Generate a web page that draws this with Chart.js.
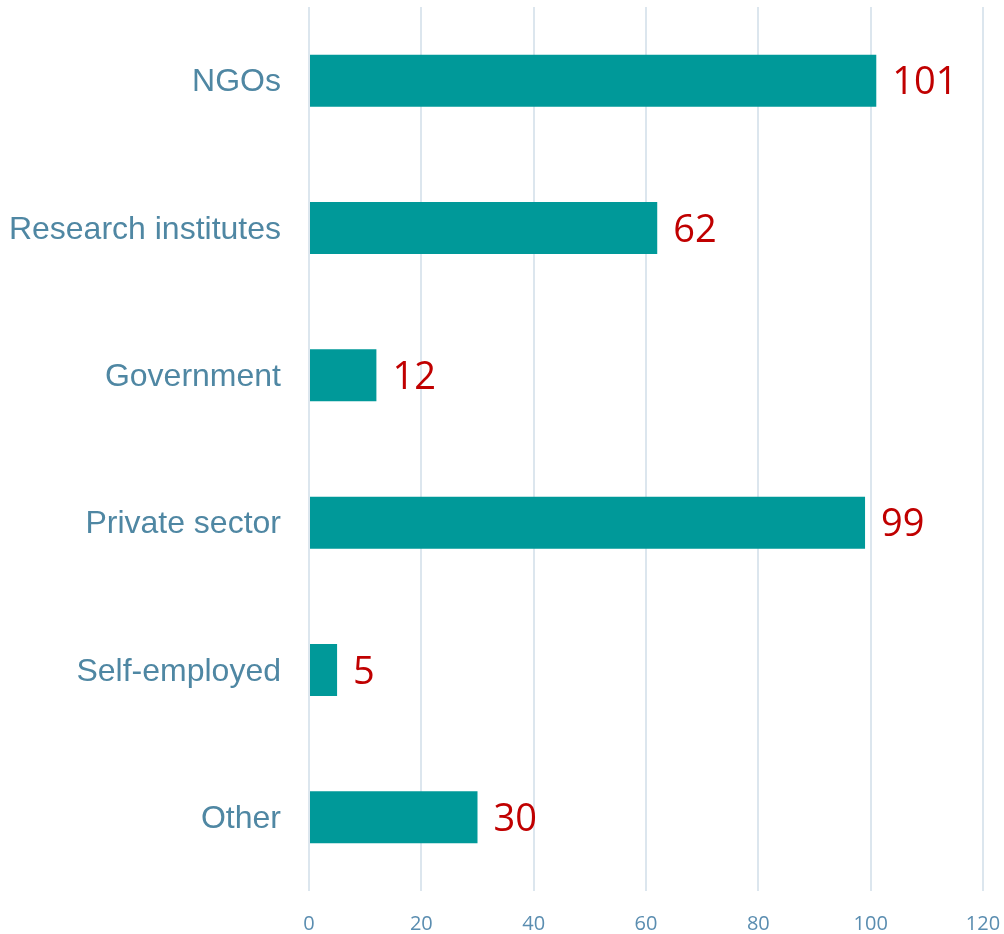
<!DOCTYPE html>
<html>
<head>
<meta charset="utf-8">
<title>Employment sector</title>
<script src="https://cdn.jsdelivr.net/npm/chart.js@4"></script>
<style>
  html, body { margin: 0; padding: 0; background: #ffffff; }
  #wrap { width: 1004px; height: 934px; position: relative; }
</style>
</head>
<body>
<div id="wrap"><canvas id="chart"></canvas></div>
<script>
// Respondents by sector
const sectors = ['NGOs', 'Research institutes', 'Government', 'Private sector', 'Self-employed', 'Other'];
const counts = [101, 62, 12, 99, 5, 30];
const axisMin = 0;
const axisMax = 120;
const axisStep = 20;

const barColor = '#009999';
const labelColor = '#4f87a3';
const tickColor = '#5a8db0';
const valueColor = '#c00000';
const gridColor = '#dce6ee';

// value printed just past the end of each bar
const valueLabels = {
    id: 'valueLabels',
    afterDatasetsDraw(chart) {
        const ctx = chart.ctx;
        const meta = chart.getDatasetMeta(0);
        ctx.save();
        ctx.font = '38px "Open Sans", "Noto Sans", sans-serif';
        ctx.fillStyle = valueColor;
        ctx.textAlign = 'left';
        ctx.textBaseline = 'middle';
        meta.data.forEach((bar, i) => {
            ctx.fillText(String(counts[i]), bar.x + 16, bar.y + 3);
        });
        ctx.restore();
    }
};

new Chart(document.getElementById('chart'), {
    type: 'bar',
    data: {
        labels: sectors,
        datasets: [{
            data: counts,
            backgroundColor: barColor,
            borderWidth: 0,
            categoryPercentage: 1,
            barPercentage: 0.353
        }]
    },
    options: {
        indexAxis: 'y',
        responsive: true,
        maintainAspectRatio: false,
        animation: false,
        layout: { padding: { top: 7, right: 21, bottom: 0, left: 0 } },
        plugins: {
            legend: { display: false },
            tooltip: { enabled: false }
        },
        scales: {
            x: {
                min: axisMin,
                max: axisMax,
                grid: { color: gridColor, lineWidth: 2, drawTicks: false },
                border: { display: false },
                ticks: {
                    stepSize: axisStep,
                    padding: 21,
                    color: tickColor,
                    font: { family: '"Open Sans", "Noto Sans", sans-serif', size: 20 }
                },
                afterFit(scale) {
                    scale.height = 43;
                    scale.paddingLeft = 0;
                    scale.paddingRight = 0;
                }
            },
            y: {
                grid: { display: false, drawTicks: false },
                border: { display: false },
                ticks: {
                    padding: 28,
                    labelOffset: 2,
                    color: labelColor,
                    font: { family: '"Liberation Sans", Arial, sans-serif', size: 32 }
                },
                afterFit(scale) {
                    scale.width = 309;
                    scale.paddingTop = 0;
                    scale.paddingBottom = 0;
                }
            }
        }
    },
    plugins: [valueLabels]
});
</script>
</body>
</html>
